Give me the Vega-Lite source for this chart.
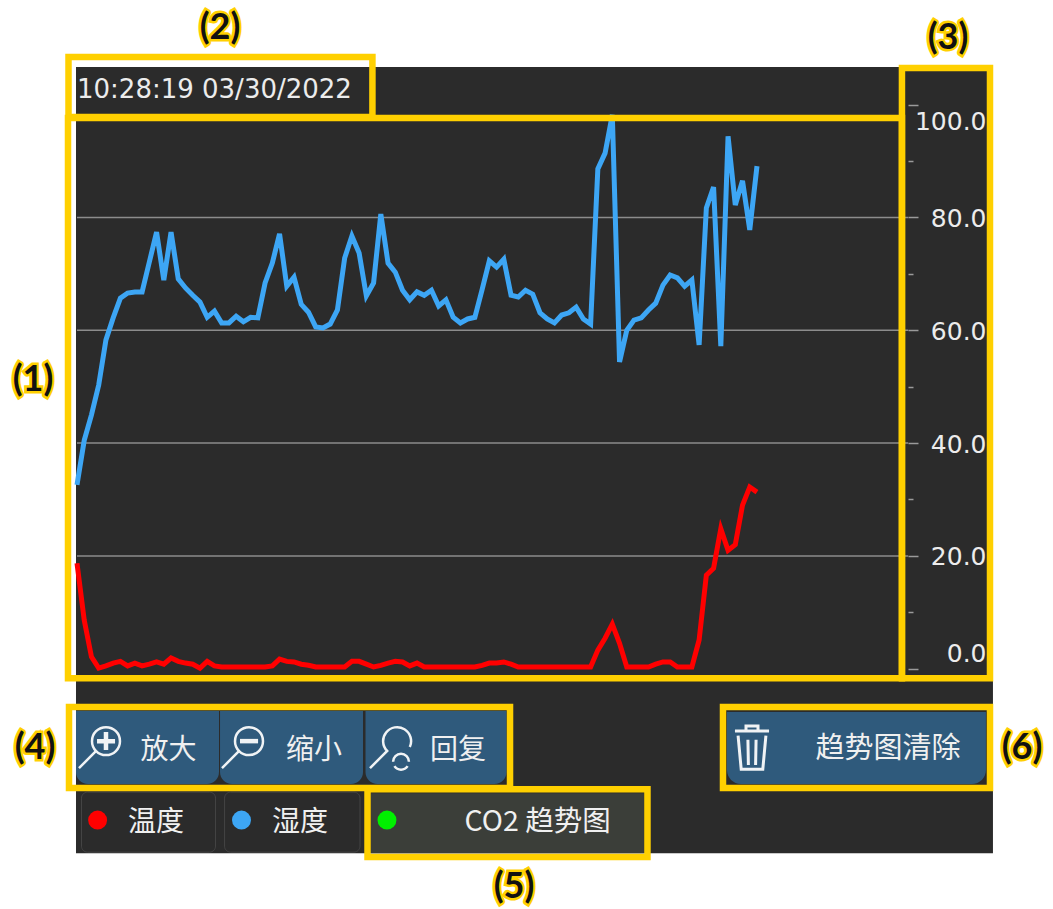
{"$schema":"https://vega.github.io/schema/vega-lite/v6.json","width":1053,"height":909,"autosize":{"type":"fit","contains":"padding"},"padding":0,"background":"#ffffff","config":{"view":{"stroke":null}},"resolve":{"axis":{"y":"independent"}},
"datasets":{"one":[{}],"grid":[{"level":20},{"level":40},{"level":60},{"level":80}],
"series":[
{"t":0,"s":"湿度","v":32.6},{"t":1,"s":"湿度","v":40.5},{"t":2,"s":"湿度","v":45},{"t":3,"s":"湿度","v":50.3},{"t":4,"s":"湿度","v":58.3},{"t":5,"s":"湿度","v":62.2},{"t":6,"s":"湿度","v":65.7},{"t":7,"s":"湿度","v":66.6},{"t":8,"s":"湿度","v":66.8},{"t":9,"s":"湿度","v":66.8},{"t":10,"s":"湿度","v":72.1},{"t":11,"s":"湿度","v":77.4},{"t":12,"s":"湿度","v":68.9},{"t":13,"s":"湿度","v":77.4},{"t":14,"s":"湿度","v":69.1},{"t":15,"s":"湿度","v":67.5},{"t":16,"s":"湿度","v":66.2},{"t":17,"s":"湿度","v":65},{"t":18,"s":"湿度","v":62.3},{"t":19,"s":"湿度","v":63.4},{"t":20,"s":"湿度","v":61.3},{"t":21,"s":"湿度","v":61.3},{"t":22,"s":"湿度","v":62.5},{"t":23,"s":"湿度","v":61.5},{"t":24,"s":"湿度","v":62.3},{"t":25,"s":"湿度","v":62.2},{"t":26,"s":"湿度","v":68.4},{"t":27,"s":"湿度","v":71.9},{"t":28,"s":"湿度","v":77.1},{"t":29,"s":"湿度","v":67.8},{"t":30,"s":"湿度","v":69.4},{"t":31,"s":"湿度","v":64.6},{"t":32,"s":"湿度","v":63.2},{"t":33,"s":"湿度","v":60.6},{"t":34,"s":"湿度","v":60.4},{"t":35,"s":"湿度","v":61.1},{"t":36,"s":"湿度","v":63.6},{"t":37,"s":"湿度","v":72.8},{"t":38,"s":"湿度","v":76.7},{"t":39,"s":"湿度","v":73.7},{"t":40,"s":"湿度","v":66.1},{"t":41,"s":"湿度","v":68.4},{"t":42,"s":"湿度","v":80.6},{"t":43,"s":"湿度","v":71.9},{"t":44,"s":"湿度","v":70.3},{"t":45,"s":"湿度","v":67.1},{"t":46,"s":"湿度","v":65.4},{"t":47,"s":"湿度","v":66.8},{"t":48,"s":"湿度","v":66.2},{"t":49,"s":"湿度","v":67.1},{"t":50,"s":"湿度","v":64.3},{"t":51,"s":"湿度","v":65.4},{"t":52,"s":"湿度","v":62.3},{"t":53,"s":"湿度","v":61.3},{"t":54,"s":"湿度","v":62},{"t":55,"s":"湿度","v":62.3},{"t":56,"s":"湿度","v":67.2},{"t":57,"s":"湿度","v":72.3},{"t":58,"s":"湿度","v":71.2},{"t":59,"s":"湿度","v":72.6},{"t":60,"s":"湿度","v":66.2},{"t":61,"s":"湿度","v":65.9},{"t":62,"s":"湿度","v":67.1},{"t":63,"s":"湿度","v":66.4},{"t":64,"s":"湿度","v":63.1},{"t":65,"s":"湿度","v":62},{"t":66,"s":"湿度","v":61.3},{"t":67,"s":"湿度","v":62.7},{"t":68,"s":"湿度","v":63.1},{"t":69,"s":"湿度","v":64.1},{"t":70,"s":"湿度","v":62},{"t":71,"s":"湿度","v":61.1},{"t":72,"s":"湿度","v":88.6},{"t":73,"s":"湿度","v":91.4},{"t":74,"s":"湿度","v":98.2},{"t":75,"s":"湿度","v":54.4},{"t":76,"s":"湿度","v":60},{"t":77,"s":"湿度","v":61.8},{"t":78,"s":"湿度","v":62.2},{"t":79,"s":"湿度","v":63.6},{"t":80,"s":"湿度","v":64.8},{"t":81,"s":"湿度","v":68},{"t":82,"s":"湿度","v":69.8},{"t":83,"s":"湿度","v":69.3},{"t":84,"s":"湿度","v":67.8},{"t":85,"s":"湿度","v":68.9},{"t":86,"s":"湿度","v":57.4},{"t":87,"s":"湿度","v":81.7},{"t":88,"s":"湿度","v":85.4},{"t":89,"s":"湿度","v":57.2},{"t":90,"s":"湿度","v":94.4},{"t":91,"s":"湿度","v":82.2},{"t":92,"s":"湿度","v":86.5},{"t":93,"s":"湿度","v":77.8},{"t":94,"s":"湿度","v":89.1},
{"t":0,"s":"温度","v":18.7},{"t":1,"s":"温度","v":8.6},{"t":2,"s":"温度","v":2.1},{"t":3,"s":"温度","v":0.1},{"t":4,"s":"温度","v":0.5},{"t":5,"s":"温度","v":1},{"t":6,"s":"温度","v":1.3},{"t":7,"s":"温度","v":0.5},{"t":8,"s":"温度","v":1},{"t":9,"s":"温度","v":0.5},{"t":10,"s":"温度","v":0.8},{"t":11,"s":"温度","v":1.2},{"t":12,"s":"温度","v":0.8},{"t":13,"s":"温度","v":1.9},{"t":14,"s":"温度","v":1.3},{"t":15,"s":"温度","v":1},{"t":16,"s":"温度","v":0.8},{"t":17,"s":"温度","v":0.1},{"t":18,"s":"温度","v":1.3},{"t":19,"s":"温度","v":0.5},{"t":20,"s":"温度","v":0.3},{"t":21,"s":"温度","v":0.3},{"t":22,"s":"温度","v":0.3},{"t":23,"s":"温度","v":0.3},{"t":24,"s":"温度","v":0.3},{"t":25,"s":"温度","v":0.3},{"t":26,"s":"温度","v":0.3},{"t":27,"s":"温度","v":0.5},{"t":28,"s":"温度","v":1.7},{"t":29,"s":"温度","v":1.3},{"t":30,"s":"温度","v":1.2},{"t":31,"s":"温度","v":0.8},{"t":32,"s":"温度","v":0.6},{"t":33,"s":"温度","v":0.3},{"t":34,"s":"温度","v":0.3},{"t":35,"s":"温度","v":0.3},{"t":36,"s":"温度","v":0.3},{"t":37,"s":"温度","v":0.3},{"t":38,"s":"温度","v":1.3},{"t":39,"s":"温度","v":1.3},{"t":40,"s":"温度","v":0.8},{"t":41,"s":"温度","v":0.3},{"t":42,"s":"温度","v":0.6},{"t":43,"s":"温度","v":1},{"t":44,"s":"温度","v":1.3},{"t":45,"s":"温度","v":1.2},{"t":46,"s":"温度","v":0.5},{"t":47,"s":"温度","v":1},{"t":48,"s":"温度","v":0.3},{"t":49,"s":"温度","v":0.3},{"t":50,"s":"温度","v":0.3},{"t":51,"s":"温度","v":0.3},{"t":52,"s":"温度","v":0.3},{"t":53,"s":"温度","v":0.3},{"t":54,"s":"温度","v":0.3},{"t":55,"s":"温度","v":0.3},{"t":56,"s":"温度","v":0.6},{"t":57,"s":"温度","v":1},{"t":58,"s":"温度","v":1},{"t":59,"s":"温度","v":1.2},{"t":60,"s":"温度","v":0.8},{"t":61,"s":"温度","v":0.3},{"t":62,"s":"温度","v":0.3},{"t":63,"s":"温度","v":0.3},{"t":64,"s":"温度","v":0.3},{"t":65,"s":"温度","v":0.3},{"t":66,"s":"温度","v":0.3},{"t":67,"s":"温度","v":0.3},{"t":68,"s":"温度","v":0.3},{"t":69,"s":"温度","v":0.3},{"t":70,"s":"温度","v":0.3},{"t":71,"s":"温度","v":0.3},{"t":72,"s":"温度","v":3.3},{"t":73,"s":"温度","v":5.4},{"t":74,"s":"温度","v":7.9},{"t":75,"s":"温度","v":4.5},{"t":76,"s":"温度","v":0.3},{"t":77,"s":"温度","v":0.3},{"t":78,"s":"温度","v":0.3},{"t":79,"s":"温度","v":0.3},{"t":80,"s":"温度","v":0.8},{"t":81,"s":"温度","v":1.2},{"t":82,"s":"温度","v":1.2},{"t":83,"s":"温度","v":0.3},{"t":84,"s":"温度","v":0.3},{"t":85,"s":"温度","v":0.3},{"t":86,"s":"温度","v":5.1},{"t":87,"s":"温度","v":16.6},{"t":88,"s":"温度","v":17.8},{"t":89,"s":"温度","v":24.8},{"t":90,"s":"温度","v":21},{"t":91,"s":"温度","v":22},{"t":92,"s":"温度","v":29},{"t":93,"s":"温度","v":32.2},{"t":94,"s":"温度","v":31.3}
]},
"layer":[
{"data":{"name":"one"},"mark":{"type":"rect","fill":"#2b2b2b"},"encoding":{
"x":{"datum":-0.138,"axis":null,"scale":{"domain":[-10.644,134.92],"nice":false,"zero":false}},"x2":{"datum":126.62},
"y":{"datum":106.67,"scale":{"domain":[-42.6,118.55],"nice":false,"zero":false},
"axis":{"orient":"right","offset":-145,"title":null,"grid":false,"domain":false,"values":[0,10,20,30,40,50,60,70,80,90,100],"labelExpr":"datum.value % 20 == 0 ? format(datum.value, '.1f') : ''","tickSize":{"expr":"datum.value % 20 == 0 ? 10 : 5"},"tickColor":"#9a9a9a","tickWidth":1.5,"labelFont":"DejaVu Sans","labelFontSize":25,"labelColor":"#ececec","labelAlign":"right","labelBaseline":"middle","labelPadding":68,"labelOverlap":false,"labelBound":false,"labelFlush":false,"labelOffset":{"expr":"datum.value == 100 ? 17 : datum.value == 0 ? -15 : 1"},"zindex":1}},"y2":{"datum":-32.70}}},
{"data":{"name":"grid"},"mark":{"type":"rule","stroke":"#8c8c8c","strokeWidth":1.5},"encoding":{"x":{"datum":0,"axis":null},"x2":{"datum":114.9},"y":{"field":"level","type":"quantitative","axis":null}}},
{"data":{"name":"series"},"mark":{"type":"line","strokeWidth":5,"strokeJoin":"miter","interpolate":"linear"},"encoding":{"x":{"field":"t","type":"quantitative","axis":null},"y":{"field":"v","type":"quantitative","axis":null},"color":{"field":"s","type":"nominal","legend":null,"scale":{"domain":["湿度","温度"],"range":["#3DA6F5","#FF0000"]}}}},
{"data":{"name":"one"},"layer":[
{"mark":{"type":"rect","fill":"#2F5A7C","cornerRadiusBottomLeft":12,"cornerRadiusBottomRight":12},"encoding":{"x":{"datum":-0.138,"axis":null},"x2":{"datum":19.63},"y":{"datum":-7.52,"axis":null},"y2":{"datum":-20.46}}},
{"mark":{"type":"rect","fill":"#2F5A7C","cornerRadiusBottomLeft":12,"cornerRadiusBottomRight":12},"encoding":{"x":{"datum":19.77,"axis":null},"x2":{"datum":39.54},"y":{"datum":-7.52,"axis":null},"y2":{"datum":-20.46}}},
{"mark":{"type":"rect","fill":"#2F5A7C","cornerRadiusBottomLeft":12,"cornerRadiusBottomRight":12},"encoding":{"x":{"datum":39.88,"axis":null},"x2":{"datum":59.37},"y":{"datum":-7.52,"axis":null},"y2":{"datum":-20.46}}},
{"mark":{"type":"rect","fill":"#2F5A7C","cornerRadiusBottomLeft":14,"cornerRadiusBottomRight":14},"encoding":{"x":{"datum":89.85,"axis":null},"x2":{"datum":125.65},"y":{"datum":-7.69,"axis":null},"y2":{"datum":-20.46}}},
{"mark":{"type":"rect","fill":"#2b2b2b","stroke":"#454545","strokeWidth":1,"cornerRadius":6},"encoding":{"x":{"datum":0.622,"axis":null},"x2":{"datum":19.15},"y":{"datum":-21.88,"axis":null},"y2":{"datum":-32.52}}},
{"mark":{"type":"rect","fill":"#2b2b2b","stroke":"#454545","strokeWidth":1,"cornerRadius":6},"encoding":{"x":{"datum":20.40,"axis":null},"x2":{"datum":39.12},"y":{"datum":-21.88,"axis":null},"y2":{"datum":-32.52}}},
{"mark":{"type":"rect","fill":"#3B3E39"},"encoding":{"x":{"datum":40.64,"axis":null},"x2":{"datum":78.38},"y":{"datum":-22.06,"axis":null},"y2":{"datum":-32.70}}},
{"mark":{"type":"point","filled":true,"fill":"#FF0000","size":360,"opacity":1},"encoding":{"x":{"datum":2.85,"axis":null},"y":{"datum":-26.84,"axis":null}}},
{"mark":{"type":"point","filled":true,"fill":"#3DA6F5","size":360,"opacity":1},"encoding":{"x":{"datum":22.74,"axis":null},"y":{"datum":-26.84,"axis":null}}},
{"mark":{"type":"point","filled":true,"fill":"#00F000","size":360,"opacity":1},"encoding":{"x":{"datum":42.85,"axis":null},"y":{"datum":-26.84,"axis":null}}},
{"mark":{"type":"point","shape":"M-.91,.91L-.13,.13M-.318,-.318a.636,.636 0 1,0 1.272,0a.636,.636 0 1,0 -1.272,0","size":1936,"filled":false,"stroke":"#f0f3f5","strokeWidth":2.5,"opacity":1},"encoding":{"x":{"datum":3.04,"axis":null},"y":{"datum":-14.08,"axis":null}}},
{"mark":{"type":"point","shape":"M.318,-.73V.09M-.09,-.318H.73","size":1936,"filled":false,"stroke":"#f0f3f5","strokeWidth":4.5,"opacity":1},"encoding":{"x":{"datum":3.04,"axis":null},"y":{"datum":-14.08,"axis":null}}},
{"mark":{"type":"point","shape":"M-.91,.91L-.13,.13M-.318,-.318a.636,.636 0 1,0 1.272,0a.636,.636 0 1,0 -1.272,0","size":1936,"filled":false,"stroke":"#f0f3f5","strokeWidth":2.5,"opacity":1},"encoding":{"x":{"datum":22.81,"axis":null},"y":{"datum":-14.08,"axis":null}}},
{"mark":{"type":"point","shape":"M-.09,-.318H.73","size":1936,"filled":false,"stroke":"#f0f3f5","strokeWidth":4.5,"opacity":1},"encoding":{"x":{"datum":22.81,"axis":null},"y":{"datum":-14.08,"axis":null}}},
{"mark":{"type":"point","shape":"M-.91,.91L-.13,.13A.636,.636 0 1,1 .9,-.05M.14,.62A.36,.36 0 0,1 .86,.62M.8,.82A.36,.36 0 0,1 .2,.82","size":1936,"filled":false,"stroke":"#f0f3f5","strokeWidth":2.5,"opacity":1},"encoding":{"x":{"datum":43.27,"axis":null},"y":{"datum":-14.08,"axis":null}}},
{"mark":{"type":"point","shape":"M-.71,-.71H.71M-.25,-.71V-.92H.25V-.71M-.58,-.52L-.45,.88H.45L.58,-.52M-.17,-.35L-.15,.7M.17,-.35L.15,.7","size":2304,"filled":false,"stroke":"#f0f3f5","strokeWidth":3,"opacity":1},"encoding":{"x":{"datum":93.31,"axis":null},"y":{"datum":-14.08,"axis":null}}},
{"mark":{"type":"text","text":"10:28:19 03/30/2022","font":"DejaVu Sans","fontSize":26,"align":"left","baseline":"middle","fill":"#ececec"},"encoding":{"x":{"datum":0,"axis":null},"y":{"datum":102.59,"axis":null}}},
{"mark":{"type":"text","text":"放大","font":"Noto Sans CJK SC","fontSize":28,"align":"center","baseline":"middle","fill":"#f0f0f0"},"encoding":{"x":{"datum":12.65,"axis":null},"y":{"datum":-14.61,"axis":null}}},
{"mark":{"type":"text","text":"缩小","font":"Noto Sans CJK SC","fontSize":28,"align":"center","baseline":"middle","fill":"#f0f0f0"},"encoding":{"x":{"datum":32.76,"axis":null},"y":{"datum":-14.61,"axis":null}}},
{"mark":{"type":"text","text":"回复","font":"Noto Sans CJK SC","fontSize":28,"align":"center","baseline":"middle","fill":"#f0f0f0"},"encoding":{"x":{"datum":52.67,"axis":null},"y":{"datum":-14.61,"axis":null}}},
{"mark":{"type":"text","text":"趋势图清除","font":"Noto Sans CJK SC","fontSize":29,"align":"center","baseline":"middle","fill":"#f0f0f0"},"encoding":{"x":{"datum":112.11,"axis":null},"y":{"datum":-14.26,"axis":null}}},
{"mark":{"type":"text","text":"温度","font":"Noto Sans CJK SC","fontSize":28,"align":"center","baseline":"middle","fill":"#f0f0f0"},"encoding":{"x":{"datum":10.92,"axis":null},"y":{"datum":-27.30,"axis":null}}},
{"mark":{"type":"text","text":"湿度","font":"Noto Sans CJK SC","fontSize":28,"align":"center","baseline":"middle","fill":"#f0f0f0"},"encoding":{"x":{"datum":30.83,"axis":null},"y":{"datum":-27.30,"axis":null}}},
{"mark":{"type":"text","text":"CO2 趋势图","font":"Noto Sans CJK SC","fontSize":28.5,"align":"center","baseline":"middle","fill":"#f0f0f0"},"encoding":{"x":{"datum":63.67,"axis":null},"y":{"datum":-27.20,"axis":null}}},
{"mark":{"type":"rect","fill":null,"stroke":"#FFD000","strokeWidth":6.5},"encoding":{"x":{"datum":-1.175,"axis":null},"x2":{"datum":40.84},"y":{"datum":108.44,"axis":null},"y2":{"datum":97.80}}},
{"mark":{"type":"rect","fill":null,"stroke":"#FFD000","strokeWidth":6.5},"encoding":{"x":{"datum":-1.244,"axis":null},"x2":{"datum":114.04},"y":{"datum":97.62,"axis":null},"y2":{"datum":-1.67}}},
{"mark":{"type":"rect","fill":null,"stroke":"#FFD000","strokeWidth":6.5},"encoding":{"x":{"datum":114.04,"axis":null},"x2":{"datum":126.21},"y":{"datum":106.49,"axis":null},"y2":{"datum":-1.67}}},
{"mark":{"type":"rect","fill":null,"stroke":"#FFD000","strokeWidth":6.5},"encoding":{"x":{"datum":-1.106,"axis":null},"x2":{"datum":59.86},"y":{"datum":-6.81,"axis":null},"y2":{"datum":-21.17}}},
{"mark":{"type":"rect","fill":null,"stroke":"#FFD000","strokeWidth":6.5},"encoding":{"x":{"datum":40.16,"axis":null},"x2":{"datum":78.86},"y":{"datum":-21.35,"axis":null},"y2":{"datum":-33.40}}},
{"mark":{"type":"rect","fill":null,"stroke":"#FFD000","strokeWidth":6.5},"encoding":{"x":{"datum":89.30,"axis":null},"x2":{"datum":126.21},"y":{"datum":-6.81,"axis":null},"y2":{"datum":-21.17}}},
{"mark":{"type":"text","text":"(1)","font":"Lato","fontWeight":"bold","fontSize":36,"align":"center","baseline":"middle","fill":"#FFD000","stroke":"#FFD000","strokeWidth":5},"encoding":{"x":{"datum":-6.08,"axis":null},"y":{"datum":51.17,"axis":null}}},
{"mark":{"type":"text","text":"(1)","font":"Lato","fontWeight":"bold","fontSize":36,"align":"center","baseline":"middle","fill":"#111111"},"encoding":{"x":{"datum":-6.08,"axis":null},"y":{"datum":51.17,"axis":null}}},
{"mark":{"type":"text","text":"(2)","font":"Lato","fontWeight":"bold","fontSize":36,"align":"center","baseline":"middle","fill":"#FFD000","stroke":"#FFD000","strokeWidth":5},"encoding":{"x":{"datum":19.77,"axis":null},"y":{"datum":113.58,"axis":null}}},
{"mark":{"type":"text","text":"(2)","font":"Lato","fontWeight":"bold","fontSize":36,"align":"center","baseline":"middle","fill":"#111111"},"encoding":{"x":{"datum":19.77,"axis":null},"y":{"datum":113.58,"axis":null}}},
{"mark":{"type":"text","text":"(3)","font":"Lato","fontWeight":"bold","fontSize":36,"align":"center","baseline":"middle","fill":"#FFD000","stroke":"#FFD000","strokeWidth":5},"encoding":{"x":{"datum":120.40,"axis":null},"y":{"datum":111.81,"axis":null}}},
{"mark":{"type":"text","text":"(3)","font":"Lato","fontWeight":"bold","fontSize":36,"align":"center","baseline":"middle","fill":"#111111"},"encoding":{"x":{"datum":120.40,"axis":null},"y":{"datum":111.81,"axis":null}}},
{"mark":{"type":"text","text":"(4)","font":"Lato","fontWeight":"bold","fontSize":36,"align":"center","baseline":"middle","fill":"#FFD000","stroke":"#FFD000","strokeWidth":5},"encoding":{"x":{"datum":-5.81,"axis":null},"y":{"datum":-14.08,"axis":null}}},
{"mark":{"type":"text","text":"(4)","font":"Lato","fontWeight":"bold","fontSize":36,"align":"center","baseline":"middle","fill":"#111111"},"encoding":{"x":{"datum":-5.81,"axis":null},"y":{"datum":-14.08,"axis":null}}},
{"mark":{"type":"text","text":"(5)","font":"Lato","fontWeight":"bold","fontSize":36,"align":"center","baseline":"middle","fill":"#FFD000","stroke":"#FFD000","strokeWidth":5},"encoding":{"x":{"datum":60.41,"axis":null},"y":{"datum":-38.72,"axis":null}}},
{"mark":{"type":"text","text":"(5)","font":"Lato","fontWeight":"bold","fontSize":36,"align":"center","baseline":"middle","fill":"#111111"},"encoding":{"x":{"datum":60.41,"axis":null},"y":{"datum":-38.72,"axis":null}}},
{"mark":{"type":"text","text":"(6)","font":"Lato","fontWeight":"bold","fontSize":36,"align":"center","baseline":"middle","fill":"#FFD000","stroke":"#FFD000","strokeWidth":5},"encoding":{"x":{"datum":130.63,"axis":null},"y":{"datum":-14.08,"axis":null}}},
{"mark":{"type":"text","text":"(6)","font":"Lato","fontWeight":"bold","fontSize":36,"align":"center","baseline":"middle","fill":"#111111"},"encoding":{"x":{"datum":130.63,"axis":null},"y":{"datum":-14.08,"axis":null}}}
]}
]}
